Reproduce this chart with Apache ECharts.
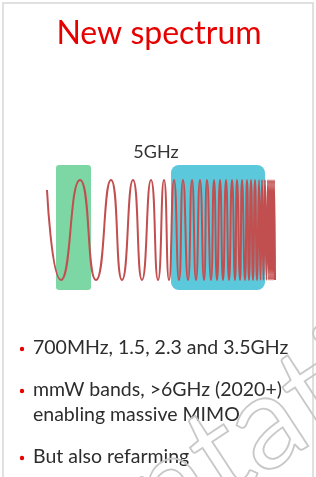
<!DOCTYPE html>
<html>
<head>
<meta charset="utf-8">
<script src="https://cdn.jsdelivr.net/npm/echarts@6/dist/echarts.min.js"></script>
<style>
html, body { margin: 0; padding: 0; background: #fff; }
#main { width: 316px; height: 477px; }
</style>
</head>
<body>
<div id="main"></div>
<script>
// turning points of the chirp (position along the strip, level)
var waveX = [0, 14, 33, 49, 64, 75, 86, 95, 104, 111, 117, 122, 127, 132, 136, 141, 145, 149, 153, 157,
             160, 164, 167, 170, 173, 176, 179, 182, 185, 188, 190, 193, 195, 198, 200, 202, 204, 206,
             208, 210, 212, 213.5, 215, 216.5, 218, 219.5, 221, 222, 223, 224, 225, 226, 227, 228];
var waveY = [0.8, -1, 1, -1, 1, -1, 1, -1, 1, -1, 1, -1, 1, -1, 1, -1, 1, -1, 1, -1,
             1, -1, 1, -1, 1, -1, 1, -1, 1, -1, 1, -1, 1, -1, 1, -1, 1, -1,
             1, -1, 1, -1, 1, -1, 1, -1, 1, -1, 1, -1, 1, -1, 1, -1];
// highlighted bands (start, end along the strip)
var bandStart = [9, 124];
var bandEnd = [44, 218];
var bandColors = ['#7dd7a5', '#5bc8dc'];
var bandRadius = [3, 8];

var titleText = 'New spectrum';
var bandLabel = '5GHz';
var bulletLines = ['700MHz, 1.5, 2.3 and 3.5GHz', 'mmW bands, >6GHz (2020+)', 'enabling massive MIMO', 'But also refarming'];
var bulletShown = [true, true, false, true];
var bulletY = [348, 390, 415, 457];

var yLow = -1.2, yHigh = 1.3;

var myChart = echarts.init(document.getElementById('main'));

var graphics = [
    {
        type: 'rect', z: 1,
        shape: { x: 3, y: 3, width: 310, height: 500 },
        style: { fill: 'none', stroke: '#e0e0e0', lineWidth: 2 }
    },
    {
        type: 'text', x: 159, y: 34, z: 10,
        style: { text: titleText, fill: '#e60000', font: '32px Lato', align: 'center', verticalAlign: 'middle' }
    },
    {
        type: 'text', x: 156, y: 152, z: 10,
        style: { text: bandLabel, fill: '#333', font: '18px Lato', align: 'center', verticalAlign: 'middle' }
    }
];
bulletLines.forEach(function (line, i) {
    if (bulletShown[i]) {
        graphics.push({
            type: 'circle', z: 10,
            shape: { cx: 22, cy: bulletY[i] + 1, r: 2.2 },
            style: { fill: '#e60000' }
        });
    }
    graphics.push({
        type: 'text', x: 33, y: bulletY[i], z: 10,
        style: { text: line, fill: '#2d2d2d', font: '19.5px Lato', align: 'left', verticalAlign: 'middle' }
    });
});
// watermark
var markStyle = { fill: 'rgba(0,0,0,0)', stroke: '#c8c8c8', lineWidth: 1.8, font: '130px Lato', verticalAlign: 'bottom' };
graphics.push({
    type: 'text', x: 274, y: 496, rotation: 0.58, z: 20, silent: true,
    style: Object.assign({ text: 'ation', align: 'left' }, markStyle)
});
graphics.push({
    type: 'text', x: 274, y: 496, rotation: 0.58, z: 20, silent: true,
    style: Object.assign({ text: 'Present', align: 'right' }, markStyle)
});

var option = {
    animation: false,
    grid: { left: 47, right: 41, top: 165, bottom: 187 },
    xAxis: { type: 'value', min: 0, max: 228, show: false },
    yAxis: { type: 'value', min: yLow, max: yHigh, show: false },
    series: [
        {
            type: 'custom',
            silent: true,
            z: 1,
            data: bandStart.map(function (s, i) { return [s, bandEnd[i]]; }),
            renderItem: function (params, api) {
                var p0 = api.coord([api.value(0), yHigh]);
                var p1 = api.coord([api.value(1), yLow]);
                return {
                    type: 'rect',
                    shape: { x: p0[0], y: p0[1], width: p1[0] - p0[0], height: p1[1] - p0[1], r: bandRadius[params.dataIndex] },
                    style: { fill: bandColors[params.dataIndex] }
                };
            }
        },
        {
            type: 'line',
            z: 2,
            data: waveX.map(function (x, i) { return [x, waveY[i]]; }),
            smooth: 0.6,
            symbol: 'none',
            lineStyle: { color: '#c24f4f', width: 2 }
        }
    ],
    graphic: graphics
};
myChart.setOption(option);
</script>
</body>
</html>
